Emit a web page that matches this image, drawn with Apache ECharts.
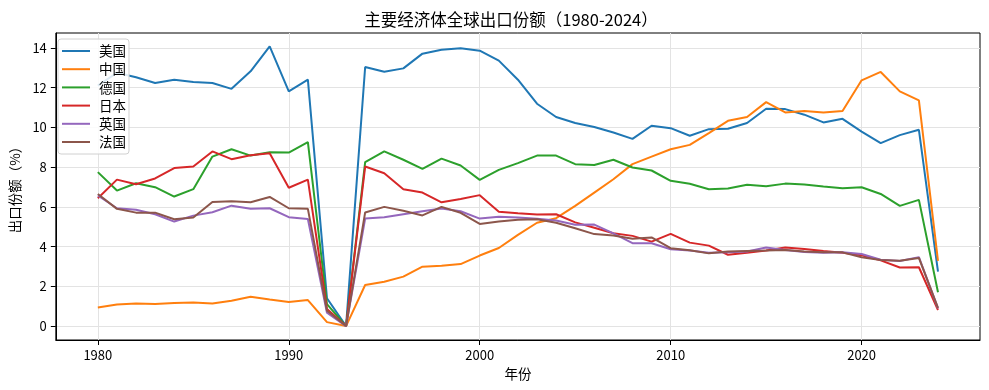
<!DOCTYPE html>
<html><head><meta charset="utf-8">
<script src="https://cdn.jsdelivr.net/npm/echarts@6/dist/echarts.min.js"></script>
<style>html,body{margin:0;padding:0;background:#fff}#c{width:989px;height:390px}</style>
</head><body><div id="c"></div>
<script>
const years = [];
for (let y = 1980; y <= 2024; y++) years.push(y);
const xTicks = [1980, 1990, 2000, 2010, 2020];
const yTicks = [0, 2, 4, 6, 8, 10, 12, 14];
const seriesNames = ['美国', '中国', '德国', '日本', '英国', '法国'];
const usa = [12.1,12.75,12.52,12.23,12.4,12.28,12.23,11.94,12.82,14.08,11.81,12.4,1.4,0,13.04,12.8,12.97,13.71,13.91,13.98,13.86,13.36,12.4,11.19,10.52,10.22,10.02,9.74,9.42,10.08,9.96,9.58,9.91,9.93,10.22,10.94,10.92,10.64,10.25,10.43,9.79,9.21,9.61,9.88,2.74];
const china = [0.94,1.09,1.14,1.11,1.16,1.19,1.14,1.28,1.48,1.34,1.21,1.31,0.2,0,2.07,2.23,2.49,2.99,3.04,3.12,3.55,3.93,4.59,5.2,5.43,6.05,6.72,7.39,8.15,8.53,8.9,9.12,9.71,10.33,10.52,11.27,10.75,10.82,10.75,10.82,12.37,12.79,11.81,11.36,3.28];
const germany = [7.75,6.82,7.19,6.99,6.52,6.89,8.53,8.9,8.58,8.75,8.73,9.26,1.11,0,8.25,8.79,8.37,7.91,8.43,8.08,7.36,7.86,8.2,8.58,8.58,8.15,8.11,8.37,7.98,7.83,7.31,7.16,6.89,6.92,7.11,7.04,7.17,7.12,7.02,6.94,6.99,6.65,6.05,6.35,1.7];
const japan = [6.43,7.37,7.14,7.43,7.95,8.03,8.79,8.4,8.6,8.7,6.96,7.37,0.86,0,8.03,7.69,6.89,6.72,6.23,6.4,6.59,5.76,5.68,5.61,5.63,5.22,4.95,4.67,4.54,4.25,4.64,4.2,4.05,3.59,3.69,3.8,3.95,3.88,3.78,3.69,3.56,3.31,2.95,2.96,0.81];
const uk = [6.57,5.93,5.85,5.63,5.26,5.56,5.73,6.06,5.9,5.93,5.48,5.39,0.67,0,5.41,5.48,5.63,5.78,5.92,5.78,5.41,5.5,5.47,5.4,5.31,5.1,5.11,4.67,4.17,4.17,3.87,3.8,3.69,3.71,3.75,3.95,3.83,3.73,3.69,3.72,3.63,3.34,3.28,3.47,0.89];
const france = [6.65,5.9,5.71,5.71,5.38,5.46,6.25,6.28,6.23,6.5,5.93,5.9,0.77,0,5.72,6.0,5.8,5.57,6.0,5.7,5.14,5.26,5.35,5.38,5.2,4.92,4.63,4.56,4.4,4.46,3.92,3.82,3.66,3.75,3.78,3.8,3.83,3.75,3.71,3.71,3.46,3.33,3.29,3.43,0.92];
const colors = ['#1f77b4', '#ff7f0e', '#2ca02c', '#d62728', '#9467bd', '#8c564b'];
const allData = [usa, china, germany, japan, uk, france];

const FONT = '"Noto Sans CJK SC", "DejaVu Sans", sans-serif';
const chart = echarts.init(document.getElementById('c'), null, {renderer: 'canvas'});
const axisCommon = {
  axisLine: {show: true, onZero: false, lineStyle: {color: '#000', width: 1}},
  axisTick: {show: true, inside: false, length: 5, lineStyle: {color: '#000', width: 1}},
  splitLine: {show: true, lineStyle: {color: '#e3e3e3', width: 1}},
  nameTextStyle: {fontFamily: FONT, fontSize: 13.5, color: '#000'}
};
chart.setOption({
  animation: false,
  color: colors,
  title: {
    text: '主要经济体全球出口份额（1980-2024）',
    left: 506, top: 6, textAlign: 'center',
    textStyle: {fontFamily: FONT, fontSize: 16.5, fontWeight: 'normal', color: '#000'}
  },
  legend: {
    orient: 'vertical', left: 58, top: 39,
    data: seriesNames,
    icon: 'rect', itemWidth: 28, itemHeight: 2, itemGap: 4.2,
    padding: [5, 3, 5, 4],
    backgroundColor: 'rgba(255,255,255,0.85)', borderColor: '#d0d0d0', borderWidth: 1, borderRadius: 3,
    formatter: '{t|{name}}',
    textStyle: {fontFamily: FONT, fontSize: 13.5, color: '#000', lineHeight: 14,
      rich: {t: {fontFamily: FONT, fontSize: 13.5, color: '#000', lineHeight: 14, padding: [0, 0, 0, 4]}}}
  },
  grid: {left: 52, right: 9, top: 33, bottom: 50, show: true, borderColor: '#000', borderWidth: 1, containLabel: false},
  xAxis: Object.assign({}, axisCommon, {
    type: 'value', min: 1977.8, max: 2026.2,
    name: '年份', nameLocation: 'middle', nameGap: 24,
    axisTick: Object.assign({}, axisCommon.axisTick, {customValues: xTicks}),
    axisLabel: {customValues: xTicks, margin: 9, fontFamily: FONT, fontSize: 13, color: '#000', formatter: v => String(v)}
  }),
  yAxis: Object.assign({}, axisCommon, {
    type: 'value', min: -0.7, max: 14.75,
    name: '出口份额（%）', nameLocation: 'middle', nameGap: 28, nameRotate: 90,
    axisTick: Object.assign({}, axisCommon.axisTick, {customValues: yTicks}),
    axisLabel: {customValues: yTicks, margin: 9, fontFamily: FONT, fontSize: 13, color: '#000'}
  }),
  series: seriesNames.map((n, i) => ({
    name: n, type: 'line', showSymbol: false, symbol: 'none',
    lineStyle: {width: 2, color: colors[i]}, itemStyle: {color: colors[i]},
    data: years.map((y, k) => [y, allData[i][k]])
  }))
});
</script></body></html>
